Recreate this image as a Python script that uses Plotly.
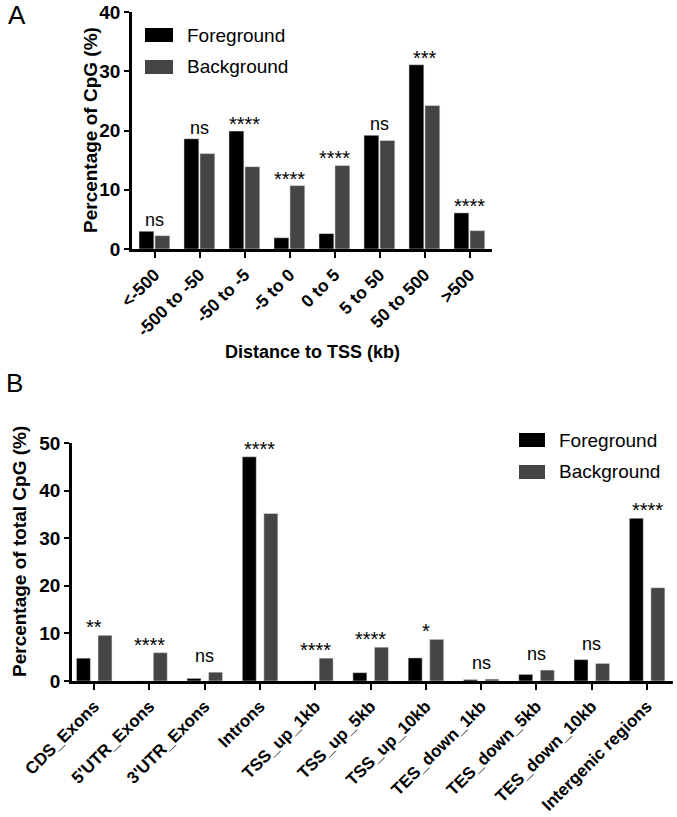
import plotly.graph_objects as go

W, H = 677, 817
FONT = "Liberation Sans, Arial, Helvetica, sans-serif"
FG_COLOR = "#000000"
BG_COLOR = "#454545"

# Panel A: distance to TSS
tss_bins = ["<-500", "-500 to -50", "-50 to -5", "-5 to 0", "0 to 5", "5 to 50", "50 to 500", ">500"]
tss_fg = [3.0, 18.6, 19.9, 1.9, 2.6, 19.2, 31.1, 6.1]
tss_bg = [2.25, 16.1, 13.9, 10.7, 14.1, 18.3, 24.2, 3.1]
tss_sig = ["ns", "ns", "****", "****", "****", "ns", "***", "****"]

# Panel B: genomic regions
regions = ["CDS_Exons", "5'UTR_Exons", "3'UTR_Exons", "Introns", "TSS_up_1kb", "TSS_up_5kb",
           "TSS_up_10kb", "TES_down_1kb", "TES_down_5kb", "TES_down_10kb", "Intergenic regions"]
region_fg = [4.8, 0.0, 0.55, 47.1, 0.0, 1.75, 4.85, 0.3, 1.4, 4.5, 34.2]
region_bg = [9.6, 5.95, 1.85, 35.2, 4.8, 7.1, 8.75, 0.4, 2.3, 3.7, 19.6]
region_sig = ["**", "****", "ns", "****", "****", "****", "*", "ns", "ns", "ns", "****"]


def px(x):
    return x / W


def py(y):
    return 1 - y / H


fig = go.Figure()

# bars, panel A
fig.add_trace(go.Bar(x=tss_bins, y=tss_fg, name="Foreground", marker_color=FG_COLOR,
                     width=0.33, offset=-0.345, xaxis="x", yaxis="y", showlegend=False))
fig.add_trace(go.Bar(x=tss_bins, y=tss_bg, name="Background", marker_color=BG_COLOR,
                     width=0.33, offset=0.01, xaxis="x", yaxis="y", showlegend=False))
# bars, panel B
fig.add_trace(go.Bar(x=regions, y=region_fg, name="Foreground", marker_color=FG_COLOR,
                     width=0.253, offset=-0.32, xaxis="x2", yaxis="y2", showlegend=False))
fig.add_trace(go.Bar(x=regions, y=region_bg, name="Background", marker_color=BG_COLOR,
                     width=0.253, offset=0.07, xaxis="x2", yaxis="y2", showlegend=False))

annotations = []


def add_sig(cats, fg, bg, sig, xref, yref, ns_shift, star_shift):
    for c, a, b, s in zip(cats, fg, bg, sig):
        is_ns = s == "ns"
        annotations.append(dict(
            x=c, y=max(a, b), xref=xref, yref=yref, text=s, showarrow=False,
            yanchor="bottom", xanchor="center",
            yshift=ns_shift if is_ns else star_shift,
            font=dict(family=FONT, size=18 if is_ns else 20, color="black")))


add_sig(tss_bins, tss_fg, tss_bg, tss_sig, "x", "y", -1, -6)
add_sig(regions, region_fg, region_bg, region_sig, "x2", "y2", 4, -5)

# panel letters
annotations.append(dict(x=px(17), y=py(15), xref="paper", yref="paper", text="A", showarrow=False,
                        xanchor="center", yanchor="middle",
                        font=dict(family=FONT, size=26, color="black")))
annotations.append(dict(x=px(14), y=py(383), xref="paper", yref="paper", text="B", showarrow=False,
                        xanchor="center", yanchor="middle",
                        font=dict(family=FONT, size=26, color="black")))

# axis titles
annotations.append(dict(x=px(90), y=py(130), xref="paper", yref="paper", textangle=-90,
                        xanchor="center", yanchor="middle",
                        text="<b>Percentage of CpG (%)</b>", showarrow=False,
                        font=dict(family=FONT, size=19, color="black")))
annotations.append(dict(x=px(312), y=py(352), xref="paper", yref="paper",
                        xanchor="center", yanchor="middle",
                        text="<b>Distance to TSS (kb)</b>", showarrow=False,
                        font=dict(family=FONT, size=18, color="black")))
annotations.append(dict(x=px(19), y=py(552), xref="paper", yref="paper", textangle=-90,
                        xanchor="center", yanchor="middle",
                        text="<b>Percentage of total CpG (%)</b>", showarrow=False,
                        font=dict(family=FONT, size=19, color="black")))

shapes = []


def add_legend(x0, x1, text_x, rows):
    for (label, color, yc) in rows:
        shapes.append(dict(type="rect", xref="paper", yref="paper", x0=px(x0), x1=px(x1),
                           y0=py(yc + 7), y1=py(yc - 7), fillcolor=color, line_width=0))
        annotations.append(dict(x=px(text_x), y=py(yc), xref="paper", yref="paper", text=label,
                                showarrow=False, xanchor="left", yanchor="middle",
                                font=dict(family=FONT, size=19, color="black")))


add_legend(145, 173, 185, [("Foreground", FG_COLOR, 35), ("Background", BG_COLOR, 67)])
add_legend(519, 545, 557, [("Foreground", FG_COLOR, 440), ("Background", BG_COLOR, 472)])

axis_common = dict(showline=True, linecolor="black", linewidth=2.5, ticks="outside",
                   tickcolor="black", tickwidth=2, showgrid=False, zeroline=False,
                   automargin=False)

fig.update_layout(
    width=W, height=H, margin=dict(l=0, r=0, t=0, b=0),
    plot_bgcolor="white", paper_bgcolor="white", barmode="overlay",
    xaxis=dict(domain=[px(132), px(492)], anchor="y", type="category", range=[-0.5, 7.5],
               tickangle=-45, ticklen=6,
               tickfont=dict(family=FONT, size=17.5, color="black", weight="bold"), **axis_common),
    yaxis=dict(domain=[py(249), py(12)], anchor="x", range=[0, 40], dtick=10, ticklen=5,
               tickfont=dict(family=FONT, size=19, color="black", weight="bold"), **axis_common),
    xaxis2=dict(domain=[px(72), px(673)], anchor="y2", type="category", range=[-0.4, 10.47],
                tickangle=-45, ticklen=6,
                tickfont=dict(family=FONT, size=17, color="black", weight="bold"), **axis_common),
    yaxis2=dict(domain=[py(681), py(443)], anchor="x2", range=[0, 50], dtick=10, ticklen=5,
                tickfont=dict(family=FONT, size=19, color="black", weight="bold"), **axis_common),
    annotations=annotations,
    shapes=shapes,
)

# the page body has a default 8px margin; remove it so the figure sits at the window origin
fig.write_html("out.html", config={"displayModeBar": False},
               post_script="document.body.style.margin='0';")
